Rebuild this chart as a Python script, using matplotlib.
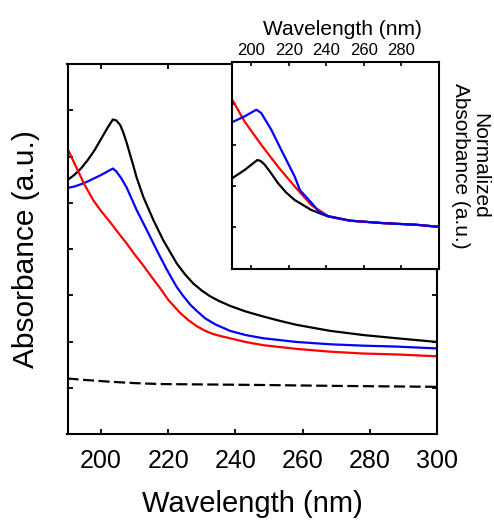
import matplotlib
matplotlib.use("Agg")
import matplotlib.pyplot as plt

plt.rcParams['font.family'] = ['Liberation Sans', 'DejaVu Sans']

# ---- main panel data ----
black_wl = [190, 192, 194, 196, 198, 200, 202, 203.5, 204.5, 205.7, 206.6, 207.6, 208.6,
            209.6, 210.6, 212.6, 215.6, 218.5, 222.5, 225, 227.5, 230, 232.4, 235,
            238.4, 243, 248.3, 253, 258.2, 268.2, 278, 288, 300]
black_abs = [5.49, 5.60, 5.74, 5.92, 6.13, 6.38, 6.63, 6.80, 6.78, 6.68, 6.52, 6.30, 6.05,
             5.80, 5.54, 5.12, 4.62, 4.19, 3.69, 3.45, 3.25, 3.10, 2.98, 2.88,
             2.77, 2.65, 2.54, 2.45, 2.36, 2.23, 2.14, 2.07, 1.99]

blue_wl = [190, 192, 194, 196, 198, 200, 202, 203.5, 204.5, 206, 207.6, 210.6, 213.6,
           216.6, 219.6, 222.5, 224.5, 226.5, 228.5, 231, 234, 238.4, 243, 248.3,
           258.2, 268.2, 278, 288, 300]
blue_abs = [5.32, 5.35, 5.40, 5.46, 5.53, 5.60, 5.68, 5.74, 5.68, 5.53, 5.33, 4.84, 4.41,
            3.97, 3.55, 3.18, 2.98, 2.80, 2.66, 2.50, 2.37, 2.23, 2.14, 2.07,
            1.99, 1.94, 1.91, 1.89, 1.85]

red_wl = [190, 192.8, 195, 197.7, 200, 202.7, 205, 207.6, 210, 212.6, 215, 217.6, 220,
          223.5, 226, 228.5, 231, 233.4, 236, 238.4, 243, 248.3, 258.2, 268.2, 278, 288, 300]
red_abs = [6.17, 5.74, 5.40, 5.05, 4.82, 4.58, 4.36, 4.12, 3.88, 3.64, 3.40, 3.15, 2.90,
           2.62, 2.46, 2.33, 2.23, 2.16, 2.11, 2.07, 1.99, 1.92, 1.84, 1.78, 1.74, 1.72, 1.68]

blank_wl = [190, 195, 202.7, 210, 217.6, 247.3, 270, 300]
blank_abs = [1.20, 1.17, 1.13, 1.10, 1.08, 1.06, 1.04, 1.02]

# ---- inset (normalized) data ----
in_red_wl = [190, 196.6, 205.4, 214.3, 223.2, 232, 241, 252.6, 270.4, 288, 300]
in_red = [4.09, 3.56, 3.00, 2.47, 1.99, 1.54, 1.27, 1.16, 1.10, 1.06, 1.01]
in_blue_wl = [190, 196.6, 202.8, 205.4, 210.8, 216, 223.2, 226, 232, 236, 241, 252.6, 270.4, 288, 300]
in_blue = [3.55, 3.69, 3.85, 3.77, 3.36, 2.88, 2.23, 1.90, 1.60, 1.38, 1.27, 1.16, 1.10, 1.06, 1.01]
in_black_wl = [190, 196.6, 203.3, 205, 207.2, 210.5, 214.3, 218.5, 223.2, 232, 241, 252.6, 270.4, 288, 300]
in_black = [2.19, 2.39, 2.63, 2.61, 2.52, 2.32, 2.07, 1.85, 1.66, 1.42, 1.26, 1.16, 1.10, 1.06, 1.01]

xticks_main = [200, 220, 240, 260, 280, 300]
xticks_inset = [200, 220, 240, 260, 280]

W, H = 494, 520
fig = plt.figure(figsize=(W / 100, H / 100), dpi=100)

def fx(px):
    return px / W

def fy(py):
    return 1 - py / H

ax = fig.add_axes([fx(67.5), fy(434), fx(437) - fx(67.5), fy(64) - fy(434)])
lw = 1.6
ax.plot(black_wl, black_abs, color='black', lw=lw)
ax.plot(blue_wl, blue_abs, color='#0000ff', lw=lw)
ax.plot(red_wl, red_abs, color='#ff0000', lw=lw)
ax.plot(blank_wl, blank_abs, color='black', lw=lw, ls=(0, (5, 2)))
ax.set_xlim(190, 300)
ax.set_ylim(0, 8)
ax.set_xticks(xticks_main)
ax.set_yticks(range(0, 9))
ax.tick_params(direction='in', top=True, right=True, length=3.5, width=1.3,
               labelsize=18, pad=11)
ax.tick_params(axis='y', labelleft=False)
for s in ax.spines.values():
    s.set_linewidth(1.5)
ax.set_xlabel('Wavelength (nm)', fontsize=21, labelpad=12)
ax.set_ylabel('Absorbance (a.u.)', fontsize=21.5, labelpad=20)

# inset
axi = fig.add_axes([fx(232.3), fy(268.5), fx(439) - fx(232.3), fy(62.3) - fy(268.5)])
axi.set_facecolor('white')
axi.plot(in_black_wl, in_black, color='black', lw=lw)
axi.plot(in_red_wl, in_red, color='#ff0000', lw=lw)
axi.plot(in_blue_wl, in_blue, color='#0000ff', lw=lw)
axi.set_xlim(190, 300)
axi.set_ylim(0, 5)
axi.set_xticks(xticks_inset)
axi.set_yticks(range(0, 6))
axi.xaxis.set_ticks_position('both')
axi.xaxis.set_label_position('top')
axi.tick_params(axis='x', direction='in', top=True, bottom=True, labeltop=True,
                labelbottom=False, length=3, width=1.2, labelsize=12, pad=3)
axi.tick_params(axis='y', direction='in', left=True, right=False, labelleft=False,
                length=3, width=1.2)
for s in axi.spines.values():
    s.set_linewidth(1.5)
axi.set_xlabel('Wavelength (nm)', fontsize=15, labelpad=6)
axi.xaxis.label.set_x(0.535)
axi.yaxis.set_label_position('right')
axi.set_ylabel('Normalized\nAbsorbance (a.u.)', fontsize=15, rotation=270,
               va='bottom', labelpad=8.5, linespacing=1.0)

fig.savefig('out.png', dpi=100)
